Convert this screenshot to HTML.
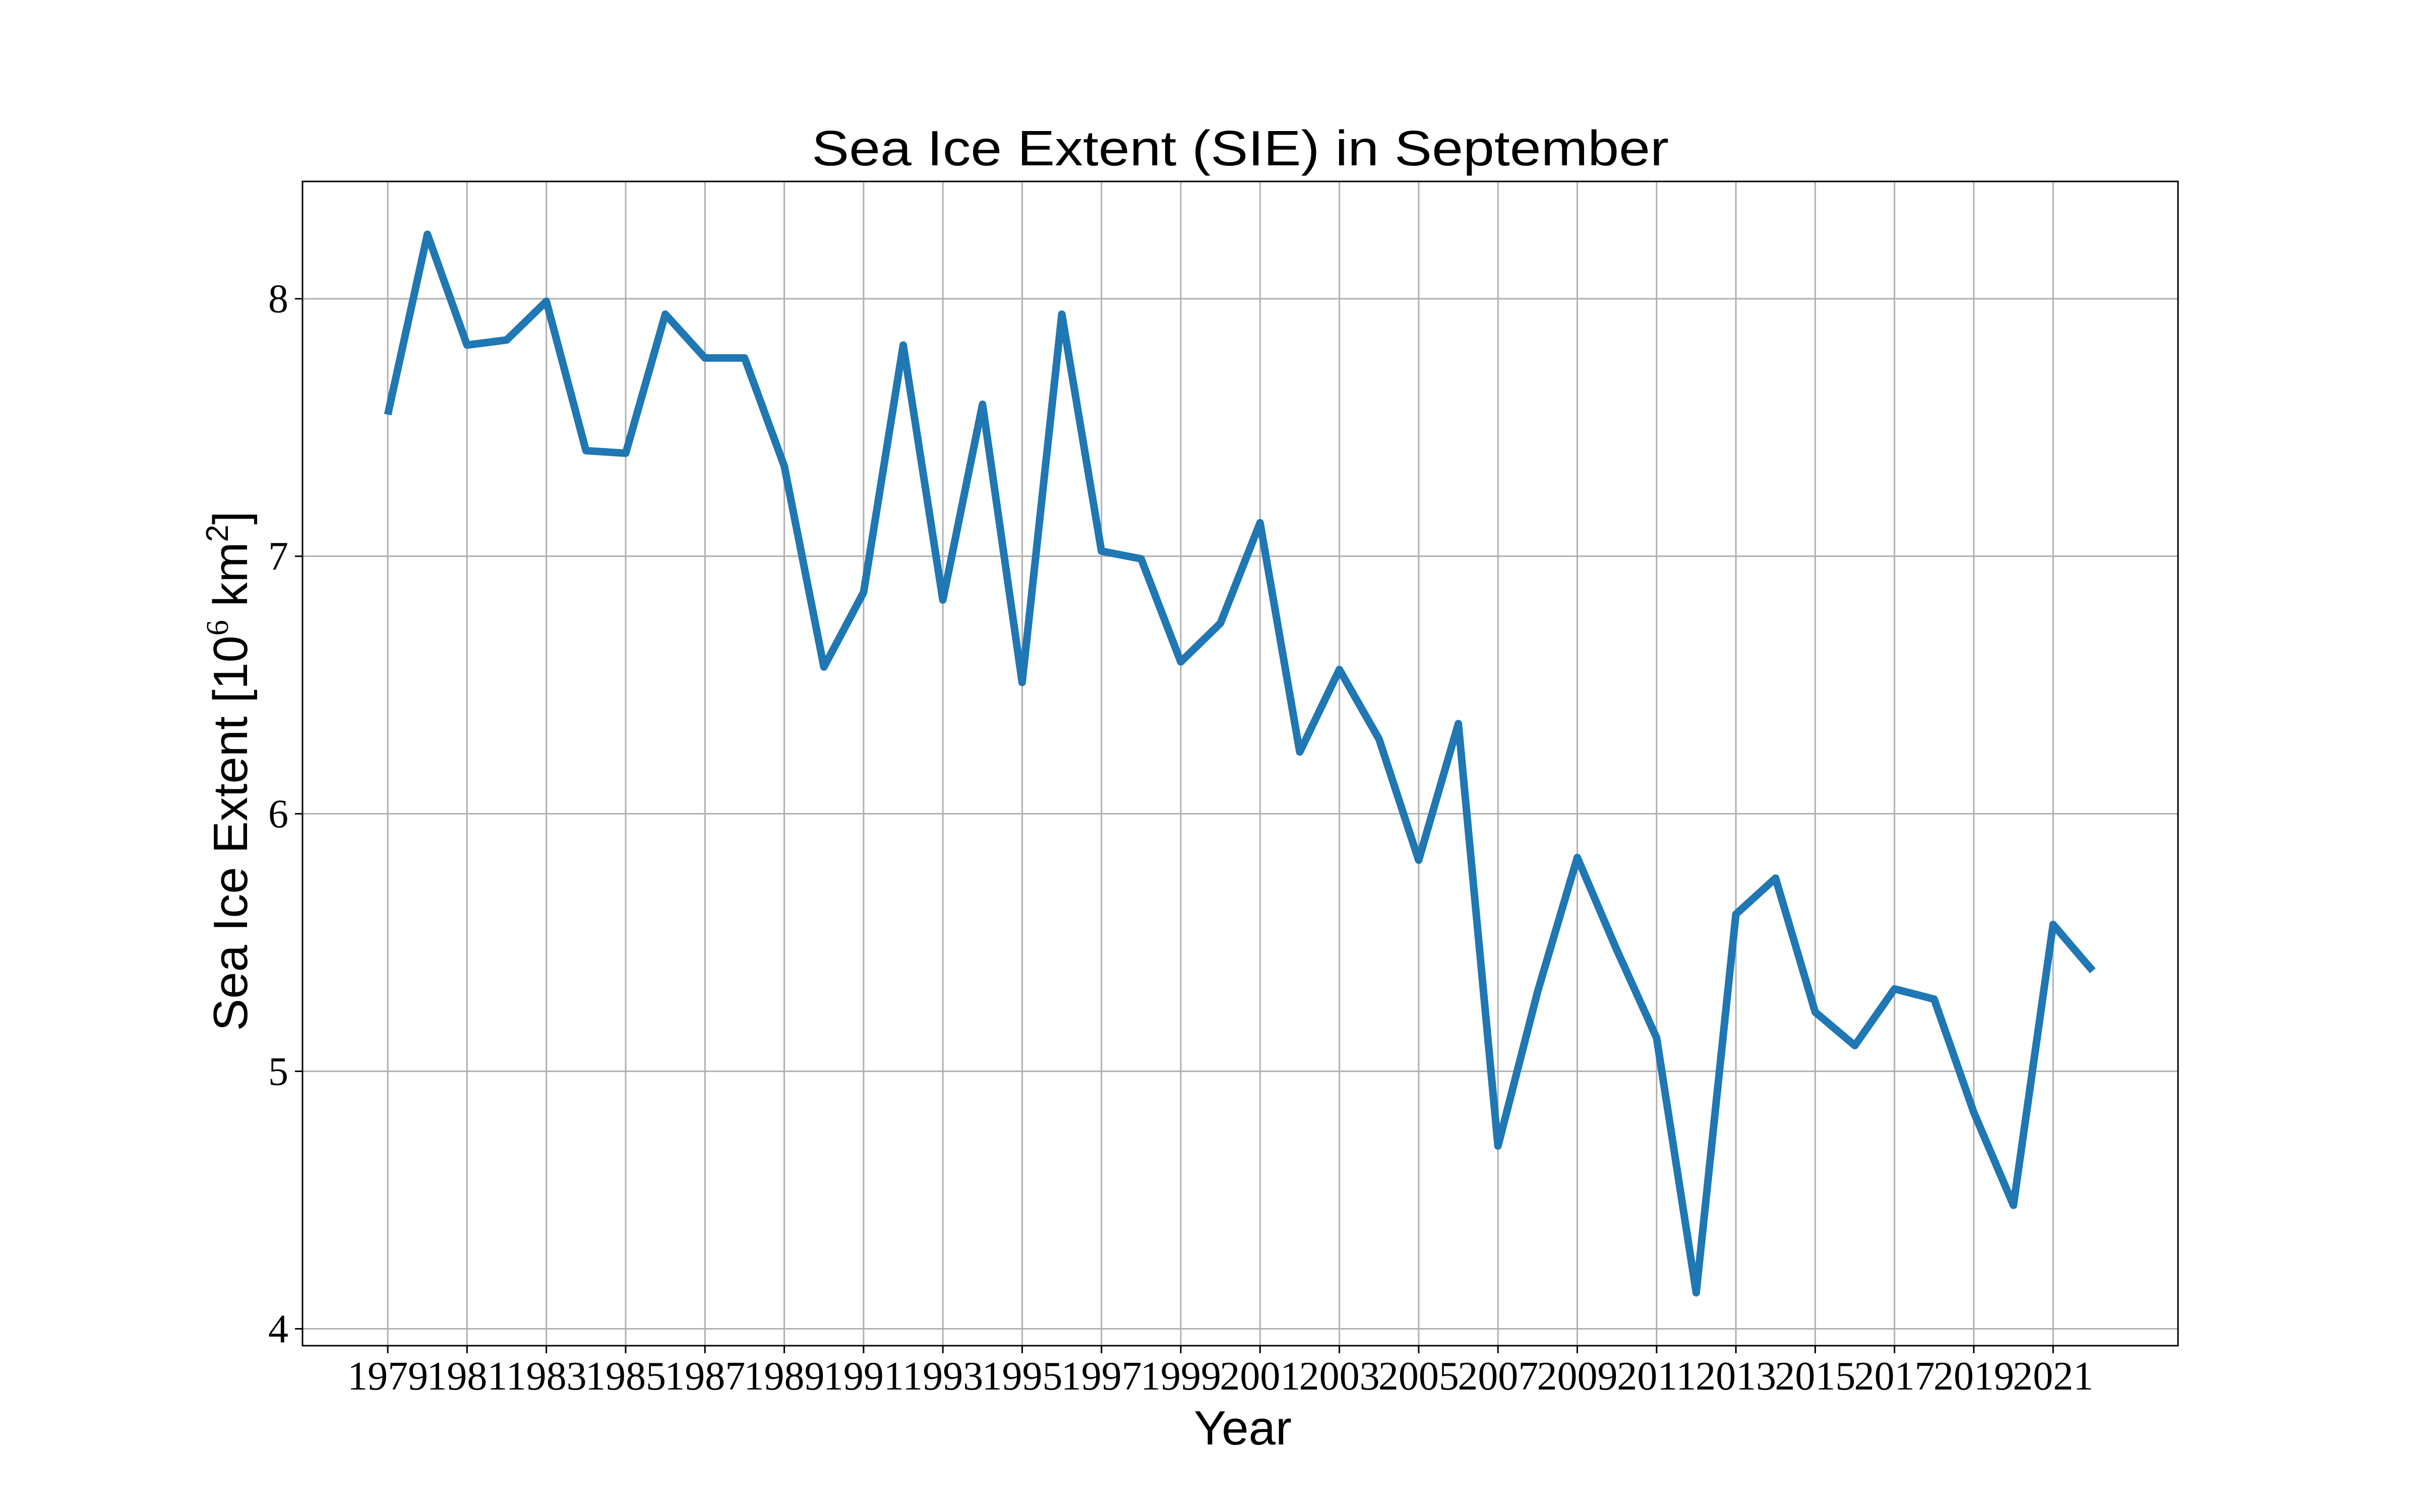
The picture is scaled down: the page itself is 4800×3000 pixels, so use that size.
<!DOCTYPE html>
<html><head><meta charset="utf-8">
<style>html,body{margin:0;padding:0;background:#fff;}svg{display:block;}</style>
</head><body>
<svg id="chart" xmlns="http://www.w3.org/2000/svg" width="4800" height="3000" viewBox="0 0 4800 3000">
<rect width="4800" height="3000" fill="#fff"/>
<g id="grid"></g>
<g id="series"></g>
<rect x="600" y="360" width="3720" height="2310" fill="none" stroke="#000" stroke-width="3"/>
<g id="ticks"></g>
<text x="2460" y="328" text-anchor="middle" font-family="Liberation Sans, sans-serif" font-size="98" textLength="1700" lengthAdjust="spacingAndGlyphs">Sea Ice Extent (SIE) in September</text>
<text x="2465" y="2866" text-anchor="middle" font-family="Liberation Sans, sans-serif" font-size="96">Year</text>
<text transform="translate(490,1530) rotate(-90)" text-anchor="middle" font-family="Liberation Sans, sans-serif" font-size="96">Sea Ice Extent [10<tspan font-family="Liberation Serif, serif" font-size="62" dy="-38">6</tspan><tspan dy="38"> km</tspan><tspan font-size="62" dy="-38">2</tspan><tspan dy="38">]</tspan></text>
</svg>
<script>
const years = [1979,1980,1981,1982,1983,1984,1985,1986,1987,1988,1989,1990,1991,1992,1993,1994,1995,1996,1997,1998,1999,2000,2001,2002,2003,2004,2005,2006,2007,2008,2009,2010,2011,2012,2013,2014,2015,2016,2017,2018,2019,2020,2021,2022];
const extent = [7.55,8.25,7.82,7.84,7.99,7.41,7.40,7.94,7.77,7.77,7.35,6.57,6.86,7.82,6.83,7.59,6.51,7.94,7.02,6.99,6.59,6.74,7.13,6.24,6.56,6.29,5.82,6.35,4.71,5.31,5.83,5.47,5.13,4.14,5.61,5.75,5.23,5.10,5.32,5.28,4.84,4.48,5.57,5.39];
const xTickYears = [1979,1981,1983,1985,1987,1989,1991,1993,1995,1997,1999,2001,2003,2005,2007,2009,2011,2013,2015,2017,2019,2021];
const yTickValues = [4,5,6,7,8];

const L=600,R=4320,T=360,B=2670;
const xmin0=Math.min(...years), xmax0=Math.max(...years);
const ymin0=Math.min(...extent), ymax0=Math.max(...extent);
const xm=(xmax0-xmin0)*0.05, ym=(ymax0-ymin0)*0.05;
const xlo=xmin0-xm, xhi=xmax0+xm, ylo=ymin0-ym, yhi=ymax0+ym;
function xs(v){return L+(v-xlo)/(xhi-xlo)*(R-L);}
function ys(v){return B-(v-ylo)/(yhi-ylo)*(B-T);}
const NS='http://www.w3.org/2000/svg';
function mk(tag,attrs,parent){const e=document.createElementNS(NS,tag);for(const k in attrs)e.setAttribute(k,attrs[k]);parent.appendChild(e);return e;}
const grid=document.getElementById('grid'), ticks=document.getElementById('ticks'), series=document.getElementById('series');

xTickYears.forEach(yr=>{
  const x=xs(yr);
  const g=mk('line',{x1:x,x2:x,y1:T,y2:B,stroke:'#b0b0b0','stroke-width':3},grid);
  
  
  const t=mk('line',{x1:x,x2:x,y1:B,y2:B+15,stroke:'#000','stroke-width':3},ticks);
  
  
  const lb=mk('text',{x:x,y:2757,'text-anchor':'middle','font-family':'Liberation Serif, serif','font-size':80},ticks);
  
  
  lb.textContent=String(yr);
});
yTickValues.forEach(v=>{
  const y=ys(v);
  const g=mk('line',{x1:L,x2:R,y1:y,y2:y,stroke:'#b0b0b0','stroke-width':3},grid);
  
  
  const t=mk('line',{x1:L-15,x2:L,y1:y,y2:y,stroke:'#000','stroke-width':3},ticks);
  
  
  const lb=mk('text',{x:572,y:y+27,'text-anchor':'end','font-family':'Liberation Serif, serif','font-size':80},ticks);
  
  
  lb.textContent=String(v);
});
const pts=years.map((yr,i)=>xs(yr).toFixed(1)+','+ys(extent[i]).toFixed(1)).join(' ');
const line=mk('polyline',{points:pts,fill:'none',stroke:'#1f77b4','stroke-width':15,'stroke-linejoin':'round','stroke-linecap':'butt'},series);


</script>
</body></html>
